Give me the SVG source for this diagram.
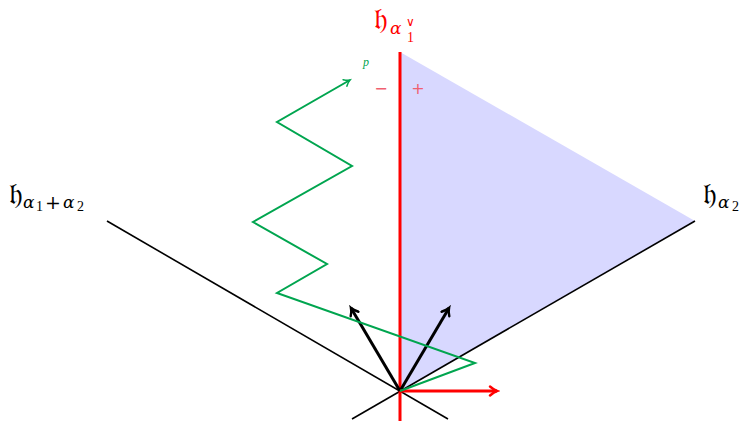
<svg xmlns="http://www.w3.org/2000/svg" width="748" height="421" viewBox="0 0 748 421">
<style>
.ax{stroke:#000;stroke-width:1.6;fill:none}
.root{stroke:#000;stroke-width:3;fill:none}
.wall{stroke:#f00;stroke-width:3;fill:none}
.path{stroke:#00a54f;stroke-width:2;fill:none;stroke-linejoin:miter}
.frak{font-family:"DejaVu Serif","Noto Sans","DejaVu Sans",serif;font-size:30px}
.sub{font-family:"DejaVu Serif","Liberation Serif",serif;font-style:italic;font-size:17px}
.subn{font-family:"Liberation Serif","DejaVu Serif",serif;font-style:normal;font-size:14px}
.op{font-family:"DejaVu Serif","Liberation Serif",serif;font-style:normal;font-size:19px}
</style>
<defs>
<marker id="ab" viewBox="0 0 12 12" refX="9" refY="6" markerWidth="12" markerHeight="12" markerUnits="userSpaceOnUse" orient="auto">
<path d="M2,1.5 Q6,5 9,6 Q6,7 2,10.5" fill="none" stroke="#000" stroke-width="2.4" stroke-linecap="round"/>
</marker>
<marker id="ar" viewBox="0 0 12 12" refX="9" refY="6" markerWidth="12" markerHeight="12" markerUnits="userSpaceOnUse" orient="auto">
<path d="M2,1.5 Q6,5 9,6 Q6,7 2,10.5" fill="none" stroke="#f00" stroke-width="2.4" stroke-linecap="round"/>
</marker>
<marker id="ag" viewBox="0 0 12 12" refX="9" refY="6" markerWidth="10" markerHeight="10" markerUnits="userSpaceOnUse" orient="auto">
<path d="M2,1.5 Q6,5 9,6 Q6,7 2,10.5" fill="none" stroke="#00a54f" stroke-width="1.8" stroke-linecap="round"/>
</marker>
</defs>
<g id="chamber">
<polygon points="400,391 695,221 400,52" fill="#d8d8ff"/>
</g>
<g id="connectors">
<line class="ax" x1="352" y1="419" x2="695" y2="221"/>
<line class="ax" x1="448" y1="419" x2="107" y2="221"/>
<line class="wall" x1="400" y1="52" x2="400" y2="421"/>
<line class="root" x1="400" y1="391" x2="351" y2="308" marker-end="url(#ab)"/>
<line class="root" x1="400" y1="391" x2="449" y2="308" marker-end="url(#ab)"/>
<line class="wall" x1="400" y1="391" x2="497" y2="391" marker-end="url(#ar)"/>
<polyline class="path" points="400,391 475,363 277,293 327,264 253,222 352,166 277,122 350,80" marker-end="url(#ag)"/>
</g>
<g id="label-top" fill="#f00">
<text class="frak" x="374" y="29">𝔥</text>
<text class="sub" x="390" y="34">α</text>
<text class="subn" x="407" y="42">1</text>
<text x="406" y="26" font-family="DejaVu Sans,sans-serif" font-size="12">∨</text>
</g>
<g id="label-left" fill="#000">
<text class="frak" x="9" y="204">𝔥</text>
<text class="sub" x="23" y="208">α</text>
<text class="subn" x="36" y="211">1</text>
<text class="op" x="45" y="209">+</text>
<text class="sub" x="63" y="208">α</text>
<text class="subn" x="77" y="211">2</text>
</g>
<g id="label-right" fill="#000">
<text class="frak" x="703" y="204">𝔥</text>
<text class="sub" x="718" y="208">α</text>
<text class="subn" x="732" y="211">2</text>
</g>
<g id="label-p"><text x="363" y="66" fill="#00a54f" font-family="Liberation Serif,serif" font-style="italic" font-size="12">p</text></g>
<g id="signs" fill="#f06070" font-family="DejaVu Sans,sans-serif" font-size="16">
<text x="381" y="94" text-anchor="middle">−</text>
<text x="418" y="94" text-anchor="middle">+</text>
</g>
</svg>
